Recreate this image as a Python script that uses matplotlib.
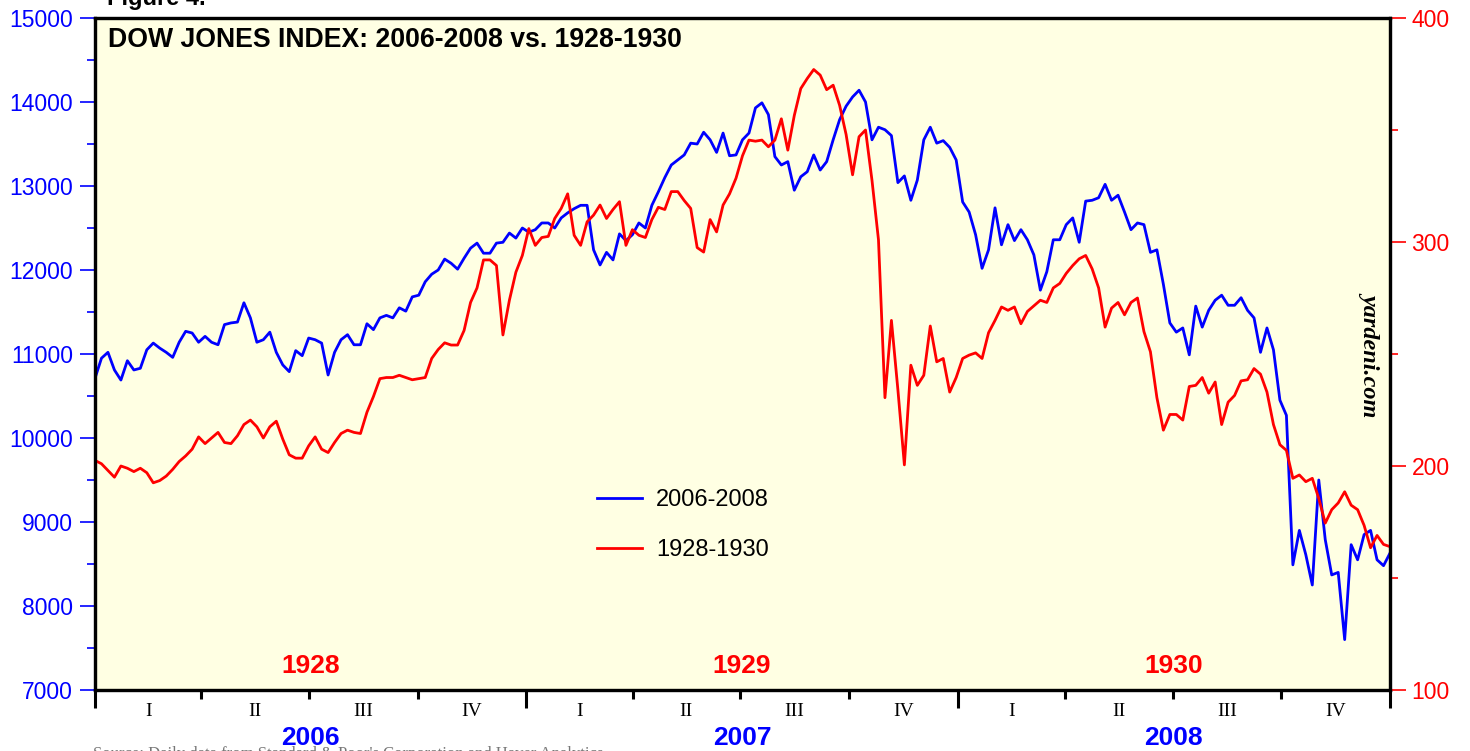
import numpy as np
import matplotlib
matplotlib.use('Agg')
import matplotlib.pyplot as plt
import matplotlib.dates as mdates
from matplotlib.ticker import MultipleLocator
from datetime import datetime

# ---------------- data ----------------
dow_2006_2008 = [
    10710, 10950, 11020, 10810, 10690, 10920, 10810, 10830, 11050, 11130,
    11070, 11020, 10960, 11140, 11270, 11250, 11140, 11210, 11140, 11110,
    11350, 11370, 11380, 11610, 11430, 11140, 11170, 11260, 11020, 10870,
    10790, 11040, 10980, 11190, 11170, 11130, 10750, 11020, 11170, 11230,
    11110, 11110, 11360, 11290, 11430, 11460, 11430, 11550, 11510, 11680,
    11700, 11860, 11950, 12000, 12130, 12080, 12010, 12140, 12260, 12320,
    12200, 12200, 12320, 12330, 12440, 12380, 12500, 12450, 12480, 12560,
    12560, 12500, 12620, 12680, 12730, 12770, 12770, 12240, 12060, 12210,
    12120, 12430, 12350, 12420, 12560, 12500, 12770, 12930, 13100, 13250,
    13310, 13370, 13510, 13500, 13640, 13550, 13400, 13630, 13360, 13370,
    13550, 13630, 13930, 13990, 13850, 13350, 13250, 13290, 12950, 13110,
    13170, 13370, 13190, 13290, 13550, 13790, 13950, 14060, 14140, 14000,
    13550, 13700, 13670, 13600, 13040, 13120, 12830, 13070, 13550, 13700,
    13510, 13540, 13460, 13310, 12810, 12690, 12420, 12020, 12240, 12740,
    12300, 12540, 12350, 12480, 12360, 12180, 11760, 11980, 12360, 12360,
    12540, 12620, 12330, 12820, 12830, 12860, 13020, 12830, 12890, 12690,
    12480, 12560, 12540, 12210, 12240, 11830, 11370, 11260, 11310, 10990,
    11570, 11320, 11520, 11640, 11700, 11580, 11580, 11670, 11520, 11430,
    11020, 11310, 11050, 10450, 10270, 8490, 8900, 8610, 8250, 9500,
    8790, 8370, 8400, 7600, 8730, 8550, 8850, 8900, 8550, 8480,
    8630,
]

dow_1928_1930 = [
    202.5, 201, 198, 195, 200, 199, 197.5, 199, 197, 192.5,
    193.5, 195.5, 198.5, 202, 204.5, 207.5, 213, 210, 212.5, 215,
    210.5, 210, 213.5, 218.5, 220.5, 217.5, 212.5, 217.5, 220, 212,
    205, 203.5, 203.5, 209, 213, 207.5, 206, 210.5, 214.5, 216,
    215, 214.5, 224, 231, 239, 239.5, 239.5, 240.5, 239.5, 238.5,
    239, 239.5, 248, 252, 255, 254, 254, 260.5, 273, 279.5,
    292, 292, 289.5, 258.5, 274, 286.5, 294, 306, 298.5, 302,
    302.5, 310.5, 315, 321.5, 303, 298.5, 309, 312, 316.5, 310.5,
    314.5, 318, 298.5, 305.5, 303, 302, 310, 315.5, 314.5, 322.5,
    322.5, 318.5, 315, 297.5, 295.5, 310, 304.5, 316.5, 321.5, 328.5,
    338.5, 345.5, 345, 345.5, 342.5, 345.5, 355, 341, 356.5, 368.5,
    373, 377, 374.5, 368, 370, 361, 348, 330, 347, 350,
    327.5, 301, 230.5, 265, 234, 200.5, 245, 236, 240.5, 262.5,
    246.5, 248, 233, 239.5, 248, 249.5, 250.5, 248, 259.5, 265,
    271, 269.5, 271, 263.5, 269, 271.5, 274, 273, 279.5, 281.5,
    286, 289.5, 292.5, 294, 288, 279.5, 262, 270.5, 273, 267.5,
    273, 275, 260, 251, 230.5, 216, 223, 223, 220.5, 235.5,
    236, 239.5, 232.5, 237.5, 218.5, 228.5, 231.5, 238, 238.5, 243.5,
    241, 233, 218.5, 209.5, 207, 194.5, 196, 193, 194.5, 185.5,
    174.5, 180.5, 183.5, 188.5, 182.5, 180.5, 173.5, 163.5, 169, 165,
    164,
]

series_labels = ['2006-2008', '1928-1930']
years_modern = [2006, 2007, 2008]
years_old = ['1928', '1929', '1930']
quarters = ['I', 'II', 'III', 'IV']
left_limits = (7000, 15000)
right_limits = (100, 400)

BLUE = '#0000FF'
RED = '#FF0000'
BG = '#FFFFE3'

plt.rcParams['font.family'] = ['Liberation Sans', 'DejaVu Sans']

W, H = 1470, 751
fig = plt.figure(figsize=(W / 100, H / 100), dpi=100)
ax = fig.add_axes([95 / W, 1 - 690 / H, 1295 / W, 672 / H])
ax.set_facecolor(BG)
ax2 = ax.twinx()

start = mdates.date2num(datetime(years_modern[0], 1, 1))
end = mdates.date2num(datetime(years_modern[-1] + 1, 1, 1))
x_blue = np.linspace(start, end, len(dow_2006_2008))
x_red = np.linspace(start, end, len(dow_1928_1930))

l1, = ax.plot(x_blue, dow_2006_2008, color=BLUE, lw=2.0, solid_joinstyle='round')
l2, = ax2.plot(x_red, dow_1928_1930, color=RED, lw=2.0, solid_joinstyle='round')

ax.set_xlim(start, end)
ax.set_ylim(*left_limits)
ax2.set_ylim(*right_limits)

# y axes
ax.yaxis.set_major_locator(MultipleLocator(1000))
ax.yaxis.set_minor_locator(MultipleLocator(500))
ax.tick_params(axis='y', which='major', direction='out', length=11, width=1.2,
               color=BLUE, labelcolor=BLUE, labelsize=16.5, pad=5)
ax.tick_params(axis='y', which='minor', direction='out', length=5.5, width=1.2, color=BLUE)

ax2.yaxis.set_major_locator(MultipleLocator(100))
ax2.yaxis.set_minor_locator(MultipleLocator(50))
ax2.tick_params(axis='y', which='major', direction='out', length=11.5, width=1.2,
                color=RED, labelcolor=RED, labelsize=16.5, pad=4)
ax2.tick_params(axis='y', which='minor', direction='out', length=6, width=1.2, color=RED)

# x axis: years (long ticks) and quarters (short ticks)
year_ticks = [mdates.date2num(datetime(y, 1, 1)) for y in years_modern + [years_modern[-1] + 1]]
q_ticks = [mdates.date2num(datetime(y, m, 1)) for y in years_modern for m in (4, 7, 10)]
ax.set_xticks(year_ticks)
ax.set_xticks(q_ticks, minor=True)
ax.set_xticklabels([])
ax.tick_params(axis='x', which='major', direction='out', length=13, width=2.2, color='black')
ax.tick_params(axis='x', which='minor', direction='out', length=6.5, width=2.2, color='black')

for a in (ax, ax2):
    for s in a.spines.values():
        s.set_linewidth(2.3)
        s.set_color('black')

trans = ax.get_xaxis_transform()
for y, old in zip(years_modern, years_old):
    qs = [datetime(y, m, 1) for m in (1, 4, 7, 10)] + [datetime(y + 1, 1, 1)]
    qn = [mdates.date2num(d) for d in qs]
    for i, q in enumerate(quarters):
        ax.text((qn[i] + qn[i + 1]) / 2, -0.0327, q, transform=trans, ha='center', va='center',
                fontsize=14, family=['Liberation Serif', 'DejaVu Serif'], color='black')
    mid = (qn[0] + qn[-1]) / 2
    ax.text(mid, -0.071, str(y), transform=trans, ha='center', va='center',
            fontsize=19, fontweight='bold', color=BLUE, clip_on=False, zorder=5)
    ax.text(mid, 0.0357, old, transform=trans, ha='center', va='center',
            fontsize=19, fontweight='bold', color=RED)

# titles and annotations
ax.text(0.01, 0.967, 'DOW JONES INDEX: 2006-2008 vs. 1928-1930', transform=ax.transAxes,
        ha='left', va='center', fontsize=19.2, fontweight='bold', color='black')
fig.text(107 / W, 1 - 5 / H, 'Figure 4.', ha='left', va='baseline', fontsize=17,
         fontweight='bold', color='black')
ax2.text(0.985, 0.50, 'yardeni.com', transform=ax.transAxes, rotation=270,
         ha='center', va='center', fontsize=17.5, fontweight='bold', fontstyle='italic',
         family=['Liberation Serif', 'DejaVu Serif'], color='black')
fig.text(93 / W, 1 - 746 / H, "Source: Daily data from Standard & Poor's Corporation and Haver Analytics.",
         ha='left', va='top', fontsize=12, color='#777777',
         family=['Liberation Serif', 'DejaVu Serif'], zorder=1)

leg = ax2.legend([l1, l2], series_labels, loc='upper left', bbox_to_anchor=(0.3876, 0.2991),
                 frameon=False, fontsize=17, handlelength=1.9, handletextpad=0.6,
                 labelspacing=1.18, borderpad=0, borderaxespad=0)

fig.savefig('out.png', dpi=100, facecolor='white')
